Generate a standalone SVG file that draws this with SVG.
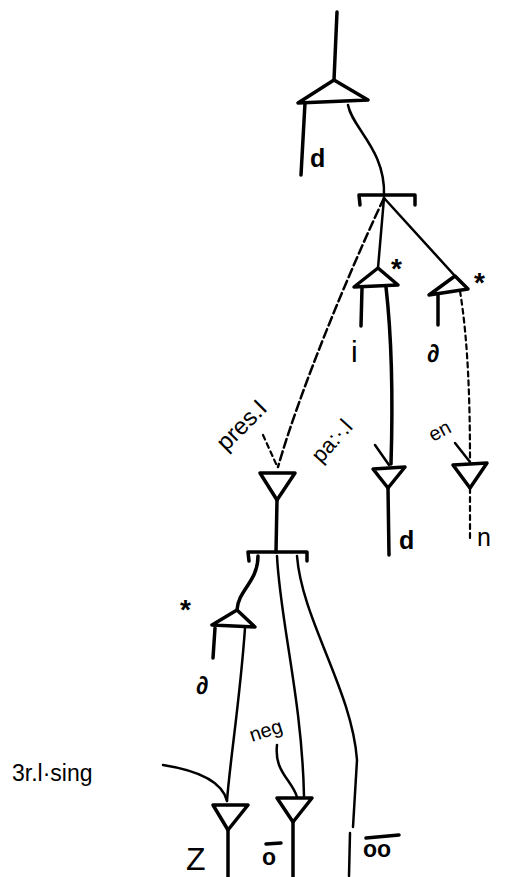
<svg xmlns="http://www.w3.org/2000/svg" width="509" height="877" viewBox="0 0 509 877">
<style>
.s{fill:none;stroke:#000;stroke-width:3.5;stroke-linecap:round;stroke-linejoin:round}
.t{fill:none;stroke:#000;stroke-width:2.5;stroke-linecap:round}
.d{fill:none;stroke:#000;stroke-width:2.5;stroke-linecap:round;stroke-dasharray:9 4}
.dt{fill:none;stroke:#000;stroke-width:2.2;stroke-linecap:round;stroke-dasharray:5 4}
.tri{fill:#fff;stroke:#000;stroke-width:3.5;stroke-linejoin:round}
text{font-family:"Liberation Sans","DejaVu Sans",sans-serif;fill:#000}
.lb{font-size:22px}
.st{font-size:28px;font-weight:bold}
</style>
<rect width="509" height="877" fill="#fff"/>
<g id="connectors">
  <path class="s" d="M337,12 L334,80"/>
  <path class="s" d="M305,103 L301,175"/>
  <path class="t" d="M348,105 C352,128 386,150 384,196"/>
  <path class="t" d="M384,198 L378,268"/>
  <path class="t" d="M384,198 L455,276"/>
  <path class="d" d="M384,198 C350,270 300,390 278,467"/>
  <path class="s" d="M362,288 L361,326"/>
  <path class="s" d="M386,287 C392,340 393,400 391,464"/>
  <path class="s" d="M438,293 L438,325"/>
  <path class="dt" d="M460,291 C468,340 470,400 470,462"/>
  <path class="s" d="M388,488 L389,555"/>
  <path class="dt" d="M470,488 L470,540"/>
  <path class="s" d="M277,500 L276,552"/>
  <path class="s" d="M258,556 C258,582 238,590 237,610"/>
  <path class="t" d="M277,556 C280,620 302,700 304,796"/>
  <path class="t" d="M297,556 C302,620 352,690 357,760 L353,827"/>
  <path class="t" d="M350,833 L349,876"/>
  <path class="s" d="M215,628 L213,658"/>
  <path class="t" d="M245,628 C240,700 230,760 227,801"/>
  <path class="s" d="M228,830 L228,877"/>
  <path class="s" d="M293,822 L293,877"/>
  <path class="dt" d="M263,435 L277,466"/>
  <path class="t" d="M375,445 L389,465"/>
  <path class="t" d="M455,443 L470,462"/>
  <path class="t" d="M277,745 C274,772 292,780 297,797"/>
  <path class="t" d="M163,765 C195,770 222,780 227,801"/>
</g>
<g id="n1"><path class="tri" d="M334,80 L298,103 L368,100 Z"/></g>
<g id="n2"><path class="s" d="M360,205 L359,195 L415,195 L415,205"/></g>
<g id="n3"><path class="tri" d="M378,268 L354,287 L398,285 Z"/><text class="st" x="391" y="278">*</text></g>
<g id="n4"><path class="tri" d="M455,276 L429,295 L468,289 Z"/><text class="st" x="474" y="292">*</text></g>
<g id="n5"><path class="tri" d="M373,469 L405,467 L388,488 Z"/></g>
<g id="n6"><path class="tri" d="M453,465 L487,463 L470,488 Z"/></g>
<g id="n7"><path class="tri" d="M260,473 L295,473 L277,500 Z"/></g>
<g id="n8"><path class="s" d="M249,561 L248,552 L307,552 L307,561"/></g>
<g id="n9"><path class="tri" d="M237,610 L212,625 L255,627 Z"/><text class="st" x="180" y="619">*</text></g>
<g id="n10"><path class="tri" d="M213,805 L248,805 L228,830 Z"/></g>
<g id="n11"><path class="tri" d="M277,798 L312,798 L293,822 Z"/></g>
<g id="labels">
  <text x="310" y="167" style="font-size:25px;font-weight:bold">d</text>
  <text x="351" y="362" style="font-size:30px">i</text>
  <text x="427" y="362" style="font-size:25px;font-weight:bold">∂</text>
  <text x="196" y="694" style="font-size:25px;font-weight:bold">∂</text>
  <text style="font-size:24px" transform="translate(226,452) rotate(-45)">pres.I</text>
  <text style="font-size:22px" transform="translate(321,464) rotate(-48)">pa:·.l</text>
  <text style="font-size:20px" transform="translate(433,442) rotate(-28)">en</text>
  <text style="font-size:20px" transform="translate(252,742) rotate(-18)">neg</text>
  <text x="12" y="781" style="font-size:23px">3r.l·sing</text>
  <text x="399" y="549" style="font-size:25px;font-weight:bold">d</text>
  <text x="477" y="546" style="font-size:25px">n</text>
  <text x="186" y="870" style="font-size:32px">Z</text>
  <text x="262" y="865" style="font-size:23px;font-weight:bold">o</text>
  <path class="s" d="M266,844 L281,843"/>
  <text x="363" y="857" style="font-size:23px;font-weight:bold">oo</text>
  <path class="s" d="M366,838 L399,835"/>
</g>
</svg>
